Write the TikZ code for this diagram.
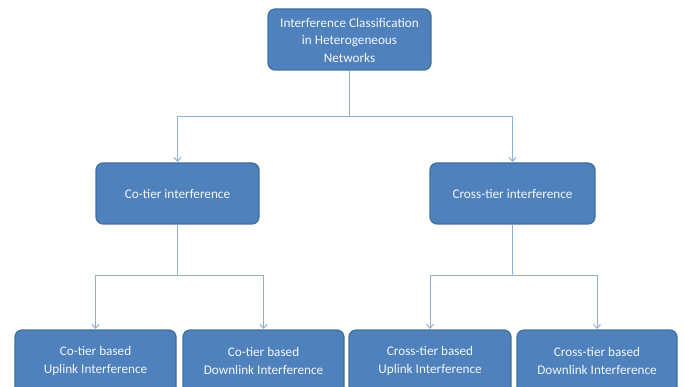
\documentclass[tikz,border=0pt]{standalone}
\usepackage{fontspec}
\setmainfont{Carlito}
\usetikzlibrary{arrows.meta}
\definecolor{boxfill}{HTML}{4F81BD}
\definecolor{boxline}{HTML}{41719C}
\definecolor{wire}{HTML}{8EB0DA}
\definecolor{boxtext}{HTML}{F2F6FB}
\begin{document}
\begin{tikzpicture}[x=1pt,y=-1pt,
  box/.style={draw=boxline,line width=1.2pt,fill=boxfill,rounded corners=7pt},
  lbl/.style={text=boxtext,align=center,font=\fontsize{13.2}{17.5}\selectfont},
  wireline/.style={draw=wire,line width=1pt},
  arr/.style={wireline,-{Straight Barb[length=4pt,width=7pt]}}]
\useasboundingbox (0,0) rectangle (685,387);
\clip (0,0) rectangle (685,387);
\path[box] (268,9) rectangle (431,70);
\node[lbl] (top) at (349.5,40) {Interference Classification\\in Heterogeneous\\Networks};
\path[box] (96,163) rectangle (259,224);
\node[lbl] (co) at (177.5,193.5) {Co-tier interference};
\path[box] (430,163) rectangle (595,224);
\node[lbl] (cross) at (512.5,193.5) {Cross-tier interference};
\path[box] (15,330) rectangle (176,400);
\node[lbl] (b1) at (95.5,361) {Co-tier based\\Uplink Interference};
\path[box] (183,330) rectangle (344,400);
\node[lbl] (b2) at (263.5,361) {Co-tier based\\Downlink Interference};
\path[box] (349,330) rectangle (511,400);
\node[lbl] (b3) at (430,361) {Cross-tier based\\Uplink Interference};
\path[box] (517,330) rectangle (677,400);
\node[lbl] (b4) at (597,361) {Cross-tier based\\Downlink Interference};
\coordinate (j0) at (349.5,117);
\coordinate (j1) at (177.5,276);
\coordinate (j2) at (512.5,276);
\draw[wireline] (349.5,70.6) -- (j0);
\draw[arr] (j0) -| (177.5,162);
\draw[arr] (j0) -| (512.5,162);
\draw[wireline] (177.5,224.6) -- (j1);
\draw[arr] (j1) -| (95.5,329);
\draw[arr] (j1) -| (263.5,329);
\draw[wireline] (512.5,224.6) -- (j2);
\draw[arr] (j2) -| (430,329);
\draw[arr] (j2) -| (597,329);
\end{tikzpicture}
\end{document}
